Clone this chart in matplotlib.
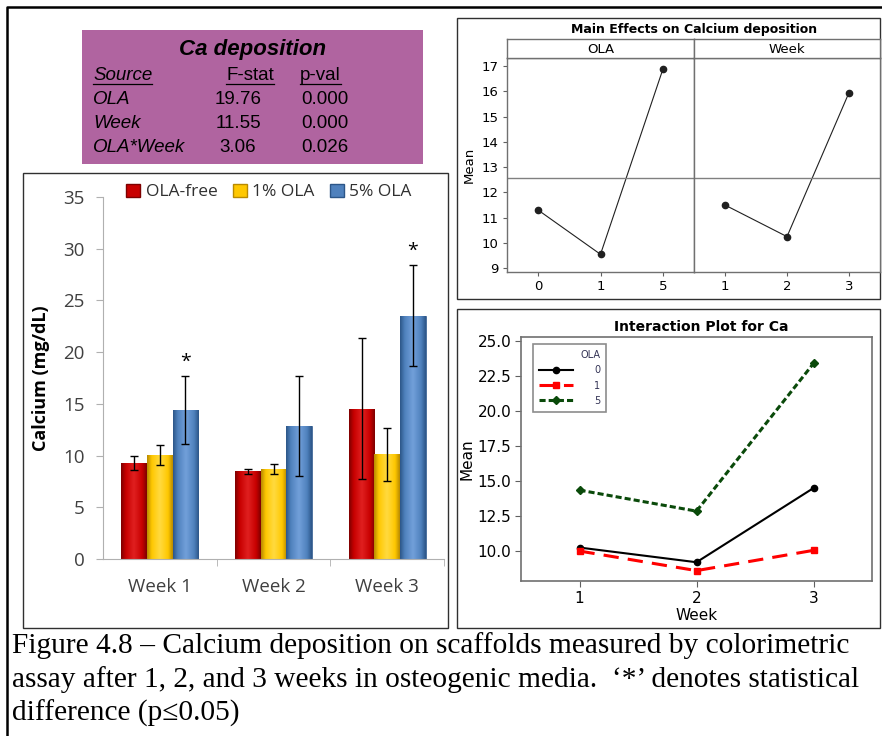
import numpy as np
import matplotlib
matplotlib.use("Agg")
import matplotlib.pyplot as plt
from matplotlib.patches import Rectangle, Patch
from matplotlib.colors import LinearSegmentedColormap

# ---- data ----
weeks = ["Week 1", "Week 2", "Week 3"]
groups = ["OLA-free", "1% OLA", "5% OLA"]
ca_free = [9.3, 8.47, 14.52]
ca_1pct = [10.04, 8.69, 10.11]
ca_5pct = [14.39, 12.88, 23.5]
err_free = [0.7, 0.28, 6.83]
err_1pct = [0.95, 0.48, 2.55]
err_5pct = [3.3, 4.83, 4.88]
signif = [[False, False, True], [False, False, False], [False, False, True]]  # [week][group]

ola_levels = ["0", "1", "5"]
ola_means = [11.3, 9.55, 16.87]
week_levels = ["1", "2", "3"]
week_means = [11.5, 10.25, 15.95]

inter_weeks = [1, 2, 3]
inter_ola0 = [10.25, 9.2, 14.5]
inter_ola1 = [10.0, 8.6, 10.05]
inter_ola5 = [14.35, 12.85, 23.4]

table_rows = [("OLA", "19.76", "0.000"), ("Week", "11.55", "0.000"), ("OLA*Week", "3.06", "0.026")]

W, H = 882, 736
fig = plt.figure(figsize=(W / 100, H / 100), dpi=100)
fig.patch.set_facecolor("white")


def px(x0, y0, x1, y1):
    return [x0 / W, 1 - y1 / H, (x1 - x0) / W, (y1 - y0) / H]


# background axes in pixel coordinates (origin top-left)
bg = fig.add_axes([0, 0, 1, 1], zorder=-5)
bg.set_xlim(0, W)
bg.set_ylim(H, 0)
bg.axis("off")

# outer border and panel frames
bg.plot([7, 7, W], [H, 7, 7], color="black", lw=1.8, solid_capstyle="butt")
for (x0, y0, x1, y1) in [(23, 173, 448, 628), (457, 18, 880, 299), (457, 309, 880, 628)]:
    bg.add_patch(Rectangle((x0, y0), x1 - x0, y1 - y0, fill=False, ec="#303030", lw=1.0))

# ---- ANOVA table ----
bg.add_patch(Rectangle((82, 30), 341, 134, fc="#B064A0", ec="none"))
bg.text(253, 50, "Ca deposition", ha="center", va="center", family="Liberation Sans",
        weight="bold", style="italic", size=16)
fig.canvas.draw()
rend = fig.canvas.get_renderer()
inv = bg.transData.inverted()
for (x, label, st) in [(93, "Source", "italic"), (226, "F-stat", "normal"), (300, "p-val", "normal")]:
    t = bg.text(x, 75, label, ha="left", va="center", family="Liberation Sans", style=st, size=13.5)
    bb = t.get_window_extent(rend)
    (ax0, _), (ax1, _) = inv.transform([[bb.x0, bb.y0], [bb.x1, bb.y0]])
    bg.plot([ax0, ax1], [84, 84], color="black", lw=0.9)
for i, (src, f, p) in enumerate(table_rows):
    y = 99 + 24 * i
    bg.text(93, y, src, ha="left", va="center", family="Liberation Sans", style="italic", size=13.5)
    bg.text(238, y, f, ha="center", va="center", family="Liberation Sans", size=13.5)
    bg.text(325, y, p, ha="center", va="center", family="Liberation Sans", size=13.5)

# ---- bar chart ----
ax = fig.add_axes(px(103, 197, 444, 559))
x = np.arange(len(weeks))
bw = 0.225
series = [(ca_free, err_free), (ca_1pct, err_1pct), (ca_5pct, err_5pct)]
shades = [("#7E0000", "#C80000", "#E02020"),
          ("#B88A00", "#FFC800", "#FFDA40"),
          ("#2C5688", "#4F81BD", "#72A0DA")]
for k, ((vals, errs), (dark, base, light)) in enumerate(zip(series, shades)):
    pos = x + (k - 1) * bw
    bars = ax.bar(pos, vals, bw, color=base, edgecolor=dark, lw=0.5, zorder=2)
    cmap = LinearSegmentedColormap.from_list("g", [(0, dark), (0.18, base), (0.5, light),
                                                    (0.82, base), (1, dark)])
    grad = np.linspace(0, 1, 64)[None, :]
    for b in bars:
        im = ax.imshow(grad, cmap=cmap, extent=[b.get_x(), b.get_x() + b.get_width(), 0, b.get_height()],
                       aspect="auto", zorder=2.5, interpolation="bicubic")
        im.set_clip_path(b)
    ax.errorbar(pos, vals, yerr=errs, fmt="none", ecolor="black", elinewidth=1, capsize=3,
                capthick=1, zorder=4)
    for i in range(len(weeks)):
        if signif[i][k]:
            ax.text(pos[i], vals[i] + errs[i] + 0.5, "*", ha="center", va="bottom",
                    size=14, family="Open Sans")
ax.set_xlim(-0.5, 2.5)
ax.set_ylim(0, 35)
ax.set_yticks(range(0, 36, 5))
ax.set_xticks(x)
ax.set_xticklabels(weeks)
ax.set_xticks([0.5, 1.5, 2.5], minor=True)
ax.tick_params(axis="x", which="major", length=0, pad=14)
ax.tick_params(axis="x", which="minor", length=5, color="#B0B0B0")
ax.tick_params(axis="y", length=5, color="#B0B0B0", pad=8)
for lab in ax.get_xticklabels() + ax.get_yticklabels():
    lab.set_family("Open Sans")
    lab.set_size(13.5)
    lab.set_color("#404040")
for s in ["top", "right"]:
    ax.spines[s].set_visible(False)
for s in ["left", "bottom"]:
    ax.spines[s].set_color("#B0B0B0")
ax.set_ylabel("Calcium (mg/dL)", family="Open Sans", weight="bold", size=13, labelpad=10)
handles = [Patch(fc=b, ec=d) for (d, b, l) in shades]
leg = ax.legend(handles, groups, loc="center", bbox_to_anchor=(269, 192),
                bbox_transform=bg.transData, ncol=3, frameon=False, handlelength=0.8,
                handleheight=0.8, handletextpad=0.3, columnspacing=0.9,
                prop={"family": "Open Sans", "size": 12.5})
for t in leg.get_texts():
    t.set_color("#303030")

# ---- main effects plot ----
ymin, ymax = 8.85, 17.32
grand = np.mean(ola_means)
me_axes = []
for j, (x0, x1, levels, means, name) in enumerate([(507, 694, ola_levels, ola_means, "OLA"),
                                                    (694, 880, week_levels, week_means, "Week")]):
    a = fig.add_axes(px(x0, 58, x1, 272))
    a.plot(range(1, 4), means, color="#202020", lw=0.8, marker="o", ms=4.5)
    a.axhline(grand, color="#808080", lw=1.0)
    a.set_xlim(0.5, 3.5)
    a.set_ylim(ymin, ymax)
    a.set_xticks(range(1, 4))
    a.set_xticklabels(levels)
    a.set_yticks(range(9, 18))
    if j > 0:
        a.tick_params(axis="y", left=False, labelleft=False)
    a.tick_params(labelsize=9.5, length=3, width=0.8, color="#606060", pad=3)
    for s in a.spines.values():
        s.set_color("#707070")
        s.set_linewidth(1.0)
    st = fig.add_axes(px(x0, 39, x1, 58))
    st.set_xticks([])
    st.set_yticks([])
    for s in st.spines.values():
        s.set_color("#707070")
        s.set_linewidth(1.0)
    st.text(0.5, 0.45, name, ha="center", va="center", size=9.5, transform=st.transAxes)
    me_axes.append(a)
me_axes[0].set_ylabel("Mean", size=9.5, labelpad=4)
bg.text(694, 29, "Main Effects on Calcium deposition", ha="center", va="center",
        weight="bold", size=9)

# ---- interaction plot ----
ai = fig.add_axes(px(521, 337, 872, 581))
l0, = ai.plot(inter_weeks, inter_ola0, color="black", lw=1.5, marker="o", ms=4.5)
l1, = ai.plot(inter_weeks, inter_ola1, color="#FF0000", lw=2.2, ls=(0, (5, 3)), marker="s", ms=5)
l5, = ai.plot(inter_weeks, inter_ola5, color="#0A4A0A", lw=2.2, ls=(0, (2, 1)), marker="D", ms=4)
ai.set_xlim(0.5, 3.5)
ai.set_ylim(7.86, 25.29)
ai.set_xticks(inter_weeks)
ai.set_yticks(np.arange(10, 25.1, 2.5))
ai.yaxis.set_major_formatter(matplotlib.ticker.FormatStrFormatter("%.1f"))
ai.tick_params(labelsize=11, length=4, width=0.8, color="#606060", pad=3)
for s in ai.spines.values():
    s.set_color("#707070")
    s.set_linewidth(1.2)
ai.set_ylabel("Mean", size=11, labelpad=2)
ai.set_xlabel("Week", size=11, labelpad=2)
bg.text(701, 327, "Interaction Plot for Ca", ha="center", va="center", weight="bold", size=10)
lg = ai.legend([l0, l1, l5], ola_levels, title="OLA", loc="upper left", bbox_to_anchor=(533, 344),
               bbox_transform=bg.transData, fontsize=7, title_fontsize=7, fancybox=False,
               edgecolor="#707070", handlelength=3.5, handletextpad=2.2, labelspacing=0.55,
               borderpad=0.6, borderaxespad=0)
lg.get_frame().set_linewidth(1.2)
lg._legend_box.align = "right"
for t in lg.get_texts() + [lg.get_title()]:
    t.set_color("#333355")

# ---- caption ----
caption = ["Figure 4.8 \u2013 Calcium deposition on scaffolds measured by colorimetric",
           "assay after 1, 2, and 3 weeks in osteogenic media.  \u2018*\u2019 denotes statistical",
           "difference (p\u22640.05)"]
for i, line in enumerate(caption):
    bg.text(12, 653 + 34 * i, line, ha="left", va="baseline", family="Liberation Serif", size=21.2)

fig.savefig("out.png", dpi=100)
